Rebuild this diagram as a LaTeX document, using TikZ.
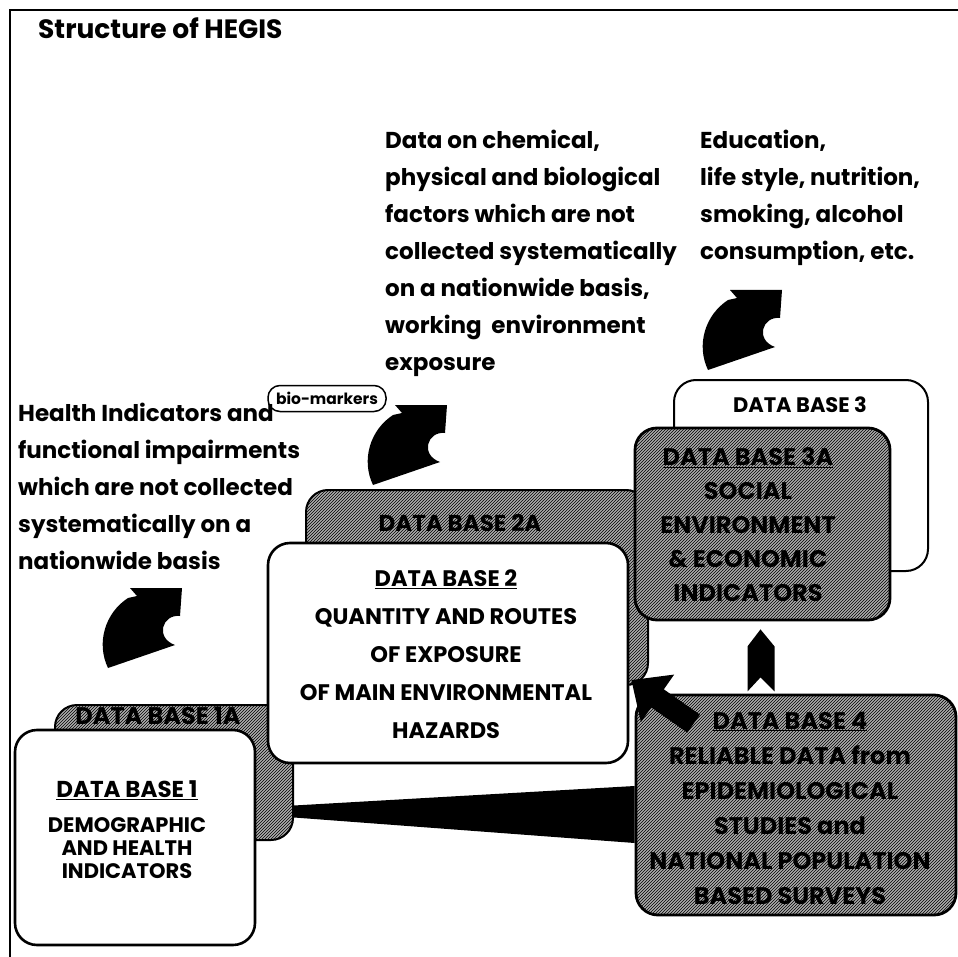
\documentclass[tikz,border=0pt]{standalone}
\usepackage{fontspec}
\setmainfont{Poppins}
\usetikzlibrary{calc}
\usetikzlibrary{patterns}
\usetikzlibrary{arrows.meta}

\tikzset{
  plainbox/.style={draw, line width=2.6pt, fill=white, rounded corners=22pt, inner sep=0pt},
  shadebox/.style={draw, line width=2pt, fill=black!32, postaction={pattern=north east lines}, rounded corners=22pt, inner sep=0pt},
  note/.style={anchor=north west, align=left, inner sep=0pt, font=\bfseries\fontsize{23}{37}\selectfont},
  dbtext/.style={align=center, inner sep=0pt, font=\bfseries\fontsize{23}{37}\selectfont},
  bentarrow/.pic={
    \fill (30,0) -- (82,0) -- (80,28) .. controls (62,26) and (55,50) .. (75,57)
      -- (8,80) .. controls (-4,55) and (5,25) .. (28,10) -- (37,8) -- cycle;
  }
}

\begin{document}
\begin{tikzpicture}[x=1pt,y=-1pt]
  \useasboundingbox (0,0) rectangle (958,957);
  \draw[line width=2.5pt] (10,957) -- (10,10) -- (958,10);
  \node[anchor=west, inner sep=0pt, font=\bfseries\fontsize{26.5}{30}\selectfont] (title) at (38,28) {Structure of HEGIS};

  % free texts
  \node[note] (factors) at (385,130) {Data on chemical,\\physical and biological\\factors which are not\\collected systematically\\on a nationwide basis,\\working~ environment\\exposure};
  \node[note] (lifestyle) at (700,130) {Education,\\life style, nutrition,\\smoking, alcohol\\consumption, etc.};
  \node[note] (health) at (18,403) {Health Indicators and\\functional impairments\\which are not collected\\systematically on a\\nationwide basis};
  \node[draw, line width=1.5pt, rounded corners=12pt, minimum width=118pt, minimum height=26pt, inner sep=0pt,
        font=\bfseries\fontsize{15.5}{20}\selectfont] (markers) at (327,398.5) {bio-markers};

  % boxes
  \node[shadebox, minimum width=238pt, minimum height=135pt] (db1a) at (174,772.5) {};
  \node[plainbox, minimum width=240pt, minimum height=215pt] (db1) at (135,837.5) {};
  \node[shadebox, minimum width=342pt, minimum height=195pt] (db2a) at (477,587.5) {};
  \node[plainbox, minimum width=360pt, minimum height=220pt] (db2) at (448,653) {};
  \node[plainbox, line width=2pt, minimum width=254pt, minimum height=191pt] (db3) at (801,475.5) {};
  \node[shadebox, line width=2.8pt, minimum width=255pt, minimum height=192pt] (db3a) at (762.5,524) {};
  \node[shadebox, line width=2.8pt, minimum width=320pt, minimum height=220pt] (db4) at (796,805) {};

  % box texts
  \node[dbtext, font=\bfseries\fontsize{24}{30}\selectfont] at (158,716) {DATA BASE 1A};
  \node[dbtext, font=\bfseries\fontsize{21}{23}\selectfont] at (127,830) {\fontsize{23}{23}\selectfont\underline{DATA BASE 1}\\[12pt]DEMOGRAPHIC\\AND HEALTH\\INDICATORS};
  \node[dbtext] at (460,523) {DATA BASE 2A};
  \node[dbtext, font=\bfseries\fontsize{22.5}{38}\selectfont] at (446,654) {\underline{DATA BASE 2}\\QUANTITY AND ROUTES\\OF EXPOSURE\\OF MAIN ENVIRONMENTAL\\HAZARDS};
  \node[dbtext, font=\bfseries\fontsize{21}{30}\selectfont] at (800,405) {DATA BASE 3};
  \node[dbtext, font=\bfseries\fontsize{24}{34}\selectfont] at (748,524.5) {\underline{DATA BASE 3A}\\SOCIAL\\ENVIRONMENT\\\& ECONOMIC\\INDICATORS};
  \node[dbtext, font=\bfseries\fontsize{24}{35}\selectfont] at (790,808) {\underline{DATA BASE 4}\\RELIABLE DATA from\\EPIDEMIOLOGICAL\\STUDIES and\\NATIONAL POPULATION\\BASED SURVEYS};

  % bent arrows
  \pic at (100,588) {bentarrow};
  \pic at (365,405) {bentarrow};
  \pic at (700,290) {bentarrow};

  % connectors
  \coordinate (uptip) at ($(db3a.south)+(-2,8)$);
  \fill (uptip) -- ++(14,17) -- ++(0,45) -- ++(-14,-14) -- ++(-13,14) -- ++(0,-45) -- cycle;
  \draw[line width=22pt, -{Triangle[length=32pt,width=56pt]}] ($(db4.north west)+(59,30)$) -- ($(db2.east)+(2,27)$);
  \fill ($(db1a.east)+(0,33)$) -- ($(db4.west)+(0,-19)$) -- ($(db4.west)+(0,38)$) -- ($(db1a.east)+(0,45)$) -- cycle;
\end{tikzpicture}
\end{document}
